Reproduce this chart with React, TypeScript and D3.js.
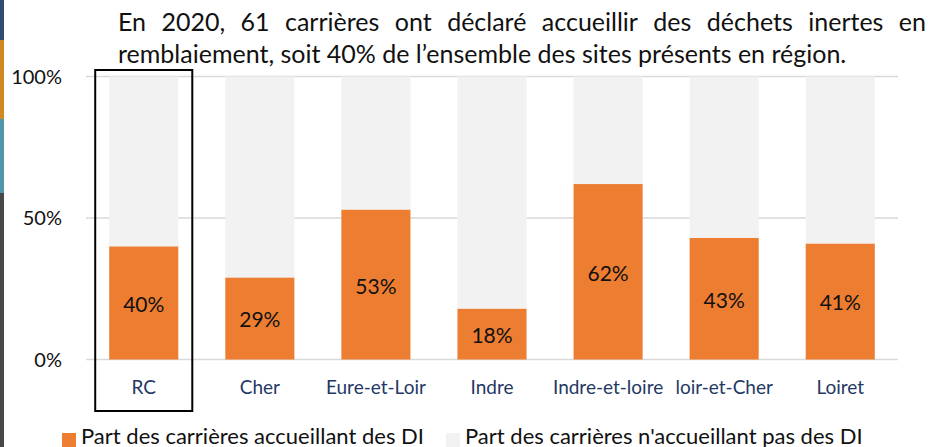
import { useEffect, useRef } from 'react'
import * as d3 from 'd3'

// Départements + région (RC), part des carrières (en %)
const categories = ['RC', 'Cher', 'Eure-et-Loir', 'Indre', 'Indre-et-loire', 'loir-et-Cher', 'Loiret']
const shareWith = [40, 29, 53, 18, 62, 43, 41]
const shareWithout = [60, 71, 47, 82, 38, 57, 59]
const yTicks = [0, 50, 100]
const legendLabels = ['Part des carrières accueillant des DI', "Part des carrières n'accueillant pas des DI"]
const titleLines = [
  'En 2020, 61 carrières ont déclaré accueillir des déchets inertes en',
  'remblaiement, soit 40% de l’ensemble des sites présents en région.',
]

const W = 928
const H = 447
const FONT = 'Lato, "Open Sans", sans-serif'
const ORANGE = '#ed7d31'
const GREY = '#f2f2f2'
const NAVY = '#1f3864'

// slide decoration on the far left edge
const sideStrip = [
  { color: '#2f4b70', y0: 0, y1: 40 },
  { color: '#d18a22', y0: 40, y1: 119 },
  { color: '#4f96a6', y0: 119, y1: 193 },
  { color: '#474747', y0: 193, y1: 447 },
]

export default function App() {
  const ref = useRef<SVGSVGElement>(null)

  useEffect(() => {
    const el = ref.current
    if (!el) return
    const svg = d3.select(el)
    svg.selectAll('*').remove()

    svg.append('rect').attr('width', W).attr('height', H).attr('fill', '#fff')

    svg.append('g')
      .selectAll('rect')
      .data(sideStrip)
      .join('rect')
      .attr('x', 0)
      .attr('y', d => d.y0)
      .attr('width', 4)
      .attr('height', d => d.y1 - d.y0)
      .attr('fill', d => d.color)

    // Title, first line justified like the word-processor paragraph
    const title = svg.append('g').attr('font-family', FONT).attr('font-size', 25).attr('fill', '#111')
    const left = 118
    const right = 926
    const words = titleLines[0].split(' ')
    const nodes = words.map(w => title.append('text').attr('y', 31).text(w))
    const widths = nodes.map(n => (n.node() as SVGTextElement).getComputedTextLength())
    const gap = (right - left - d3.sum(widths)) / (words.length - 1)
    let cx = left
    nodes.forEach((n, i) => {
      n.attr('x', cx)
      cx += widths[i] + gap
    })
    title.append('text').attr('x', left).attr('y', 63).text(titleLines[1])

    const x = d3.scaleBand<string>().domain(categories).range([86, 898]).paddingInner(0.405).paddingOuter(0.2)
    const y = d3.scaleLinear().domain([0, 100]).range([359.5, 76.5])

    svg.append('g')
      .selectAll('line')
      .data(yTicks)
      .join('line')
      .attr('x1', 86)
      .attr('x2', 898)
      .attr('y1', d => y(d))
      .attr('y2', d => y(d))
      .attr('stroke', '#d9d9d9')
      .attr('stroke-width', 1.5)

    svg.append('g')
      .selectAll('text')
      .data(yTicks)
      .join('text')
      .attr('x', 62)
      .attr('y', d => y(d) + 7)
      .attr('text-anchor', 'end')
      .attr('font-family', FONT)
      .attr('font-size', 20)
      .attr('fill', '#111')
      .text(d => `${d}%`)

    const rows = categories.map((c, i) => ({ cat: c, with: shareWith[i], without: shareWithout[i] }))
    const series = d3.stack<any>().keys(['with', 'without'])(rows)
    const color = d3.scaleOrdinal<string>().domain(['with', 'without']).range([ORANGE, GREY])

    svg.append('g')
      .selectAll('g')
      .data(series)
      .join('g')
      .attr('fill', d => color(d.key))
      .selectAll('rect')
      .data(d => d)
      .join('rect')
      .attr('x', d => x(d.data.cat) as number)
      .attr('y', d => y(d[1]))
      .attr('width', x.bandwidth())
      .attr('height', d => y(d[0]) - y(d[1]))

    // value labels inside the orange part
    svg.append('g')
      .selectAll('text')
      .data(series[0])
      .join('text')
      .attr('x', d => (x(d.data.cat) as number) + x.bandwidth() / 2)
      .attr('y', d => (y(d[0]) + y(d[1])) / 2 + 9)
      .attr('text-anchor', 'middle')
      .attr('font-family', FONT)
      .attr('font-size', 21)
      .attr('fill', '#111')
      .text(d => `${d.data.with}%`)

    svg.append('g')
      .selectAll('text')
      .data(categories)
      .join('text')
      .attr('x', d => (x(d) as number) + x.bandwidth() / 2)
      .attr('y', 394)
      .attr('text-anchor', 'middle')
      .attr('font-family', FONT)
      .attr('font-size', 19)
      .attr('fill', NAVY)
      .text(d => d)

    // highlight box around the regional bar
    const rc = x('RC') as number
    svg.append('rect')
      .attr('x', rc - 14)
      .attr('y', 70)
      .attr('width', x.bandwidth() + 28)
      .attr('height', 341)
      .attr('fill', 'none')
      .attr('stroke', '#000')
      .attr('stroke-width', 2)

    const legend = svg.append('g').attr('font-family', FONT).attr('font-size', 22).attr('fill', '#111')
    const legendX = [62, 446]
    legendLabels.forEach((lab, i) => {
      legend.append('rect')
        .attr('x', legendX[i])
        .attr('y', 433)
        .attr('width', 14)
        .attr('height', 14)
        .attr('fill', i === 0 ? ORANGE : GREY)
      legend.append('text').attr('x', legendX[i] + 19).attr('y', 444).text(lab)
    })
  }, [])

  return <svg ref={ref} width={W} height={H} style={{ position: 'absolute', left: 0, top: 0 }} />
}
